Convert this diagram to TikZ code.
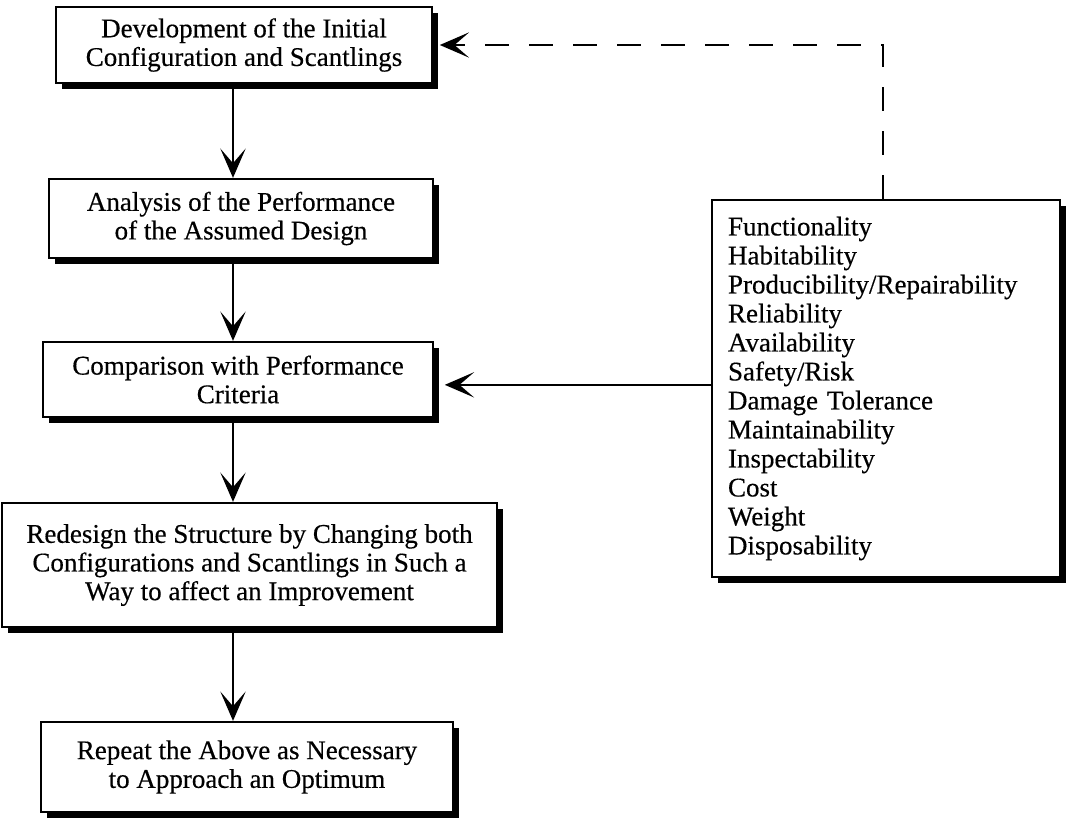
\documentclass[tikz,border=0pt]{standalone}
\usepackage{fontspec}
\setmainfont{Liberation Serif}
\newfontfamily\boxfont{Liberation Serif}[FakeBold=0.4]
\usetikzlibrary{arrows.meta,shadows}

\begin{document}
\begin{tikzpicture}[x=0.75pt,y=-0.75pt,
  stepbox/.style={draw, line width=1.7pt, fill=white, inner sep=0pt, align=center,
    font=\boxfont\fontsize{20.25pt}{21.5pt}\selectfont,
    drop shadow={shadow xshift=4.5pt, shadow yshift=-4.5pt, fill=black, opacity=1}},
  arr/.style={line width=1.7pt, -{Stealth[length=22pt, width=19pt, inset=11pt]}},
  dasharr/.style={arr, dash pattern=on 18pt off 15pt}]
\useasboundingbox (0,0) rectangle (1066,819);

% main sequence of design steps
\node[stepbox, minimum width=282pt, minimum height=57pt] (b1) at (244,45)
  {Development of the Initial\\Configuration and Scantlings};
\node[stepbox, minimum width=288pt, minimum height=59.25pt] (b2) at (241,218.5)
  {Analysis of the Performance\\of the Assumed Design};
\node[stepbox, minimum width=292.5pt, minimum height=56.25pt] (b3) at (238,379.5)
  {Comparison with Performance\\Criteria};
\node[stepbox, minimum width=371.25pt, minimum height=93pt] (b4) at (249.5,565)
  {Redesign the Structure by Changing both\\Configurations and Scantlings in Such a\\Way to affect an Improvement};
\node[stepbox, minimum width=309pt, minimum height=67.5pt] (b5) at (247,767)
  {Repeat the Above as Necessary\\to Approach an Optimum};

% list of performance criteria
\node[stepbox, minimum width=261pt, minimum height=282.75pt, text width=237pt,
  align=left, font=\boxfont\fontsize{20.25pt}{21.75pt}\selectfont] (crit) at (886,388.5)
  {Functionality\\Habitability\\Producibility/Repairability\\Reliability\\Availability\\Safety/Risk\\Damage Tolerance\\Maintainability\\Inspectability\\Cost\\Weight\\Disposability};

% connectors
\coordinate (ax) at (233,0);
\coordinate (corner) at (883,45);
\draw[arr] (b1.south -| ax) -- (b2.north -| ax);
\draw[arr] (b2.south -| ax) -- (b3.north -| ax);
\draw[arr] (b3.south -| ax) -- (b4.north -| ax);
\draw[arr] (b4.south -| ax) -- (b5.north -| ax);
\draw[arr] ([yshift=-4pt]crit.west |- b3.east) -- ([xshift=8pt,yshift=-4pt]b3.east);
\draw[dasharr] (crit.north -| corner) -- (corner) -- ([xshift=5pt]b1.east);
\end{tikzpicture}
\end{document}
